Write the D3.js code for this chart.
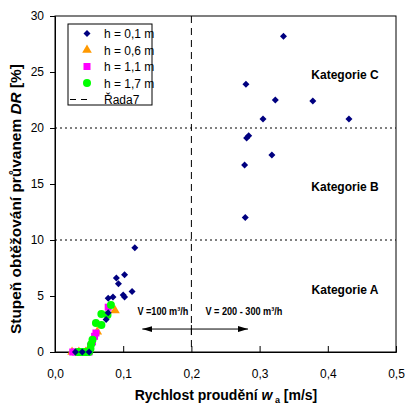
<!DOCTYPE html>
<html>
<head>
<meta charset="utf-8">
<script src="https://cdn.jsdelivr.net/npm/d3@7"></script>
<style>
body { margin: 0; background: #fff; }
text { font-family: "Liberation Sans", Arial, sans-serif; }
</style>
</head>
<body>
<script>
var w = 406;
var h = 404;
var margin = {left: 55, top: 16, right: 10, bottom: 52};

// h = 0,1 m  (blue diamonds)
var h01x = [0.335, 0.280, 0.323, 0.378, 0.305, 0.431, 0.284, 0.281, 0.318, 0.278, 0.279,
            0.117, 0.090, 0.093, 0.102, 0.113, 0.100, 0.102, 0.078, 0.085, 0.075, 0.078, 0.030, 0.040, 0.050];
var h01y = [28.2, 23.9, 22.5, 22.4, 20.8, 20.8, 19.3, 19.1, 17.6, 16.7, 12.0,
            9.3, 6.6, 6.1, 6.9, 5.4, 5.1, 4.9, 4.8, 4.9, 2.9, 3.5, 0, 0, 0];
// h = 0,6 m  (orange triangles)
var h06x = [0.088, 0.062, 0.050, 0.025, 0.035, 0.045];
var h06y = [3.7, 1.8, 0.3, 0, 0, 0];
// h = 1,1 m  (magenta squares)
var h11x = [0.078, 0.060, 0.058, 0.055, 0.052, 0.026, 0.030, 0.035, 0.040, 0.045, 0.050];
var h11y = [4.0, 1.7, 1.4, 0.9, 0.5, 0, 0, 0, 0, 0, 0];
// h = 1,7 m  (green circles)
var h17x = [0.082, 0.068, 0.077, 0.060, 0.068, 0.055, 0.053, 0.052, 0.033, 0.036, 0.040, 0.043, 0.046, 0.050];
var h17y = [4.2, 3.4, 3.3, 2.6, 2.4, 1.1, 0.7, 0.3, 0, 0, 0, 0, 0, 0];

var xTicks = [0, 0.1, 0.2, 0.3, 0.4, 0.5];
var yTicks = [0, 5, 10, 15, 20, 25, 30];
var categoryLines = [10, 20];
var categories = [{name: "Kategorie C", y: 24.4}, {name: "Kategorie B", y: 14.4}, {name: "Kategorie A", y: 5.2}];
var legendNames = ["h = 0,1 m", "h = 0,6 m", "h = 1,1 m", "h = 1,7 m", "Řada7"];

var svg = d3.select("body").append("svg")
    .attr("width", w)
    .attr("height", h);

var x = d3.scaleLinear().domain([0, 0.5]).range([margin.left, w - margin.right]);
var y = d3.scaleLinear().domain([0, 30]).range([h - margin.bottom, margin.top]);

var fmt = function(d){ return d3.format(".1f")(d).replace(".", ","); };

// plot border
svg.append("rect")
    .attr("x", x(0)).attr("y", y(30))
    .attr("width", x(0.5) - x(0)).attr("height", y(0) - y(30))
    .attr("fill", "none").attr("stroke", "#000").attr("stroke-width", 1);

// dotted category lines
svg.selectAll("line.cat")
    .data(categoryLines)
    .enter().append("line")
    .attr("x1", x(0)).attr("x2", x(0.5))
    .attr("y1", function(d){ return y(d); })
    .attr("y2", function(d){ return y(d); })
    .attr("stroke", "#000").attr("stroke-dasharray", "2,3");

// dashed vertical line (Řada7)
svg.append("line")
    .attr("x1", x(0.2)).attr("x2", x(0.2))
    .attr("y1", y(30)).attr("y2", y(0))
    .attr("stroke", "#000").attr("stroke-dasharray", "7,5");

// axes
var xAxis = d3.axisBottom(x).tickValues(xTicks).tickFormat(fmt).tickSize(-6).tickPadding(17);
var gx = svg.append("g").attr("transform", "translate(0," + y(0) + ")").call(xAxis);
var yAxis = d3.axisLeft(y).tickValues(yTicks).tickSize(5).tickPadding(6);
var gy = svg.append("g").attr("transform", "translate(" + x(0) + ",0)").call(yAxis);
[gx, gy].forEach(function(g){
    g.select(".domain").attr("stroke", "#000");
    g.selectAll(".tick line").attr("stroke", "#000");
    g.selectAll("text").attr("font-size", 12).attr("fill", "#000")
        .attr("font-family", "'Liberation Sans', Arial, sans-serif");
});

// category labels
svg.selectAll("text.catlab")
    .data(categories)
    .enter().append("text")
    .attr("x", 345)
    .attr("y", function(d){ return y(d.y); })
    .attr("text-anchor", "middle")
    .attr("font-size", 12).attr("font-weight", "bold")
    .text(function(d){ return d.name; });

// arrow annotation
var defs = svg.append("defs");
defs.append("marker").attr("id", "ah")
    .attr("viewBox", "0 0 10 6").attr("refX", 10).attr("refY", 3)
    .attr("markerWidth", 10).attr("markerHeight", 6).attr("orient", "auto")
    .attr("markerUnits", "userSpaceOnUse")
    .append("path").attr("d", "M0,0 L10,3 L0,6 Z").attr("fill", "#000");
var arrowY = 2.05;
svg.append("line")
    .attr("x1", x(0.2)).attr("x2", x(0.128))
    .attr("y1", y(arrowY)).attr("y2", y(arrowY))
    .attr("stroke", "#000").attr("marker-end", "url(#ah)");
svg.append("line")
    .attr("x1", x(0.2)).attr("x2", x(0.283))
    .attr("y1", y(arrowY)).attr("y2", y(arrowY))
    .attr("stroke", "#000").attr("marker-end", "url(#ah)");
svg.append("line")
    .attr("x1", x(0.2)).attr("x2", x(0.2))
    .attr("y1", y(arrowY) - 4).attr("y2", y(arrowY) + 6)
    .attr("stroke", "#000");

svg.append("text").attr("x", x(0.2) - 3).attr("y", y(3.3))
    .attr("text-anchor", "end").attr("font-size", 10.5).attr("font-weight", "bold")
    .attr("textLength", 51).attr("lengthAdjust", "spacingAndGlyphs")
    .text("V =100 m³/h");
svg.append("text").attr("x", x(0.2) + 14).attr("y", y(3.3))
    .attr("font-size", 10.5).attr("font-weight", "bold")
    .attr("textLength", 77).attr("lengthAdjust", "spacingAndGlyphs")
    .text("V = 200 - 300 m³/h");

// data series
function zip(a, b){ return a.map(function(v, i){ return [v, b[i]]; }); }
var navy = "#000080", orange = "#FF9900", magenta = "#FF00FF", green = "#00FF00";

svg.append("g").selectAll("path")
    .data(zip(h06x, h06y)).enter().append("path")
    .attr("d", d3.symbol().type(d3.symbolTriangle).size(40))
    .attr("transform", function(d){ return "translate(" + x(d[0]) + "," + y(d[1]) + ")"; })
    .attr("fill", orange);

svg.append("g").selectAll("rect")
    .data(zip(h11x, h11y)).enter().append("rect")
    .attr("x", function(d){ return x(d[0]) - 3.5; })
    .attr("y", function(d){ return y(d[1]) - 3.5; })
    .attr("width", 7).attr("height", 7)
    .attr("fill", magenta);

svg.append("g").selectAll("circle")
    .data(zip(h17x, h17y)).enter().append("circle")
    .attr("cx", function(d){ return x(d[0]); })
    .attr("cy", function(d){ return y(d[1]); })
    .attr("r", 4)
    .attr("fill", green);

svg.append("g").selectAll("path")
    .data(zip(h01x, h01y)).enter().append("path")
    .attr("d", "M0,-3.5 L3.5,0 L0,3.5 L-3.5,0 Z")
    .attr("transform", function(d){ return "translate(" + x(d[0]) + "," + y(d[1]) + ")"; })
    .attr("fill", navy);

// legend
var lg = svg.append("g");
lg.append("rect").attr("x", 68).attr("y", 24).attr("width", 84).attr("height", 81)
    .attr("fill", "#fff").attr("stroke", "#000");
var rowY = function(i){ return 33.5 + i * 16.5; };
var mx = 87;
lg.append("path").attr("d", "M0,-3.5 L3.5,0 L0,3.5 L-3.5,0 Z")
    .attr("transform", "translate(" + mx + "," + rowY(0) + ")").attr("fill", navy);
lg.append("path").attr("d", d3.symbol().type(d3.symbolTriangle).size(40))
    .attr("transform", "translate(" + mx + "," + rowY(1) + ")").attr("fill", orange);
lg.append("rect").attr("x", mx - 3.5).attr("y", rowY(2) - 3.5).attr("width", 7).attr("height", 7)
    .attr("fill", magenta);
lg.append("circle").attr("cx", mx).attr("cy", rowY(3)).attr("r", 4).attr("fill", green);
lg.append("line").attr("x1", 70).attr("x2", 89).attr("y1", rowY(4)).attr("y2", rowY(4))
    .attr("stroke", "#000").attr("stroke-dasharray", "6,5");
lg.selectAll("text.leg")
    .data(legendNames).enter().append("text")
    .attr("x", 104)
    .attr("y", function(d, i){ return rowY(i) + 4.5; })
    .attr("font-size", 12)
    .text(function(d){ return d; });

// axis titles
var xt = svg.append("text").attr("x", 226).attr("y", 400)
    .attr("text-anchor", "middle").attr("font-size", 14).attr("font-weight", "bold");
xt.append("tspan").text("Rychlost proudění ");
xt.append("tspan").attr("font-style", "italic").text("w");
xt.append("tspan").attr("dy", 3).attr("font-size", 9).text(" a");
xt.append("tspan").attr("dy", -3).text("  [m/s]");

var yt = svg.append("text").attr("transform", "translate(21,199) rotate(-90)")
    .attr("text-anchor", "middle").attr("font-size", 14).attr("font-weight", "bold")
    .attr("textLength", 270).attr("lengthAdjust", "spacingAndGlyphs");
yt.append("tspan").text("Stupeň obtěžování průvanem  ");
yt.append("tspan").attr("font-style", "italic").text("DR");
yt.append("tspan").text(" [%]");
</script>
</body>
</html>
